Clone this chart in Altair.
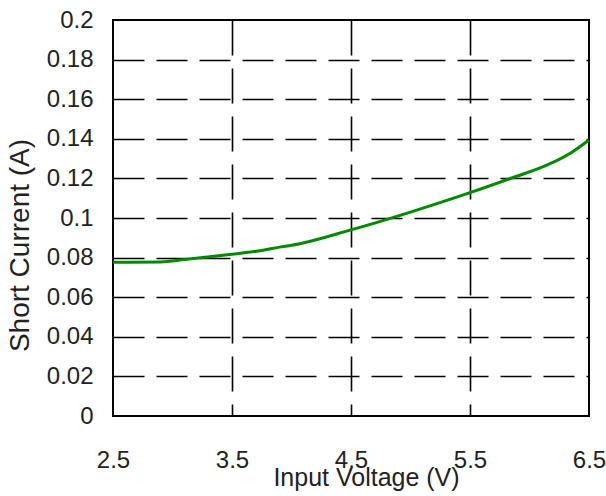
import altair as alt
import pandas as pd

voltage = [2.5, 2.9, 3.1, 3.35, 3.5, 3.75, 3.9, 4.0, 4.5, 5.0, 5.5, 5.85, 6.15, 6.35, 6.5]
current = [0.0776, 0.0778, 0.0790, 0.0807, 0.0817, 0.0836, 0.0853, 0.0862, 0.0940, 0.1030,
           0.1128, 0.1202, 0.1268, 0.1330, 0.1394]
x_ticks = [2.5, 3.5, 4.5, 5.5, 6.5]
y_ticks = [0, 0.02, 0.04, 0.06, 0.08, 0.1, 0.12, 0.14, 0.16, 0.18, 0.2]

df = pd.DataFrame({"v": voltage, "i": current})

FONT = "Liberation Sans"

x_grid_op = {"condition": {"test": "datum.value <= 2.5 || datum.value >= 6.5", "value": 0}, "value": 1}
y_grid_op = {"condition": {"test": "datum.value <= 0 || datum.value >= 0.2", "value": 0}, "value": 1}

chart = alt.Chart(df).mark_line(color="#008a00", strokeWidth=3, interpolate="monotone").encode(
    x=alt.X("v:Q", scale=alt.Scale(domain=[2.5, 6.5], nice=False, zero=False),
            axis=alt.Axis(values=x_ticks, format=".1f", title="Input Voltage (V)",
                          grid=True, gridColor="black", gridWidth=1.6, gridDash=[35, 13],
                          gridOpacity=x_grid_op, ticks=False, domain=False,
                          labelFont=FONT, labelFontSize=24, labelColor="#222222",
                          labelPadding=32, labelFlush=False,
                          titleFont=FONT, titleFontSize=25, titleFontWeight="normal",
                          titleColor="#222222", titleX=253, titleY=69,
                          titleBaseline="alphabetic", titleAlign="center")),
    y=alt.Y("i:Q", scale=alt.Scale(domain=[0, 0.2], nice=False),
            axis=alt.Axis(values=y_ticks, format=".2~f", title="Short Current (A)",
                          grid=True, gridColor="black", gridWidth=1.6, gridDash=[31, 12],
                          gridOpacity=y_grid_op, ticks=False, domain=False,
                          labelFont=FONT, labelFontSize=24, labelColor="#222222",
                          labelPadding=20, labelFlush=False,
                          titleFont=FONT, titleFontSize=28, titleFontWeight="normal",
                          titleColor="#222222", titleAngle=270, titleX=-85, titleY=225,
                          titleBaseline="alphabetic", titleAlign="center")),
).properties(
    width=476, height=396,
    background="white",
    autosize=alt.AutoSizeParams(type="none"),
    padding={"left": 113, "top": 20, "right": 17, "bottom": 80},
).configure_view(stroke="black", strokeWidth=2, strokeOpacity=1)

chart.save("out.html", embed_options={"renderer": "svg", "actions": False})
